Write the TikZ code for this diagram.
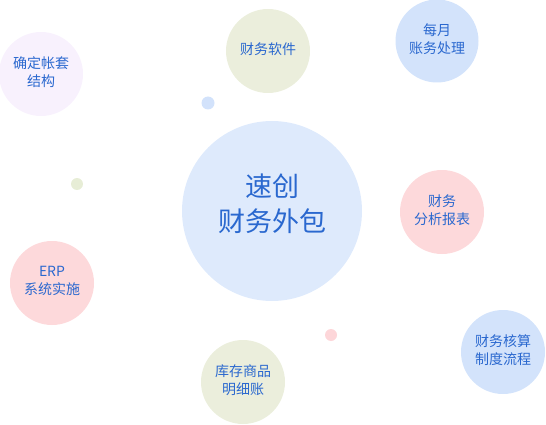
\documentclass[tikz,border=0pt]{standalone}
\usepackage{fontspec}
\setmainfont{Noto Sans CJK SC}
\definecolor{txt}{HTML}{2A68CF}
\definecolor{cbig}{HTML}{DEEAFC}
\definecolor{clav}{HTML}{F8F1FD}
\definecolor{coli}{HTML}{EBEEDC}
\definecolor{cblu}{HTML}{D3E3FB}
\definecolor{cpnk}{HTML}{FDD9DB}
\definecolor{dblu}{HTML}{D2E2FB}
\definecolor{dgrn}{HTML}{E7EDD6}
\definecolor{dpnk}{HTML}{FDD6D9}
\begin{document}
\begin{tikzpicture}[x=1pt,y=-1pt,
  bubble/.style={circle,inner sep=0pt,minimum size=84pt},
  lbl/.style={inner sep=0pt,text=txt,align=center,font=\fontsize{14}{18}\selectfont,yshift=2pt},
  biglbl/.style={inner sep=0pt,text=txt,align=center,font=\fontsize{27}{35}\selectfont,yshift=7pt},
  dot/.style={circle,inner sep=0pt}]
\useasboundingbox (0,0) rectangle (546,425);
\node[circle,inner sep=0pt,minimum size=180pt,fill=cbig] (center) at (272,211) {};
\node[biglbl] (tcenter) at (center.center) {速创\\财务外包};
\node[bubble,fill=clav] (b1) at (41,74) {};
\node[lbl] (t1) at (b1.center) {确定帐套\\结构};
\node[bubble,fill=coli] (b2) at (268,51) {};
\node[lbl] (t2) at (b2.center) {财务软件};
\node[bubble,fill=cblu,minimum size=83pt] (b3) at (437,41) {};
\node[lbl] (t3) at (b3.center) {每月\\账务处理};
\node[bubble,fill=cpnk] (b4) at (442,212) {};
\node[lbl] (t4) at (b4.center) {财务\\分析报表};
\node[bubble,fill=cpnk] (b5) at (52,283) {};
\node[lbl] (t5) at (b5.center) {ERP\\系统实施};
\node[bubble,fill=coli] (b6) at (243,382) {};
\node[lbl] (t6) at (b6.center) {库存商品\\明细账};
\node[bubble,fill=cblu] (b7) at (503,352) {};
\node[lbl] (t7) at (b7.center) {财务核算\\制度流程};
\node[dot,fill=dblu,minimum size=13pt] (d1) at (208,103) {};
\node[dot,fill=dgrn,minimum size=12pt] (d2) at (77,184) {};
\node[dot,fill=dpnk,minimum size=12pt] (d3) at (331,335) {};
\end{tikzpicture}
\end{document}
